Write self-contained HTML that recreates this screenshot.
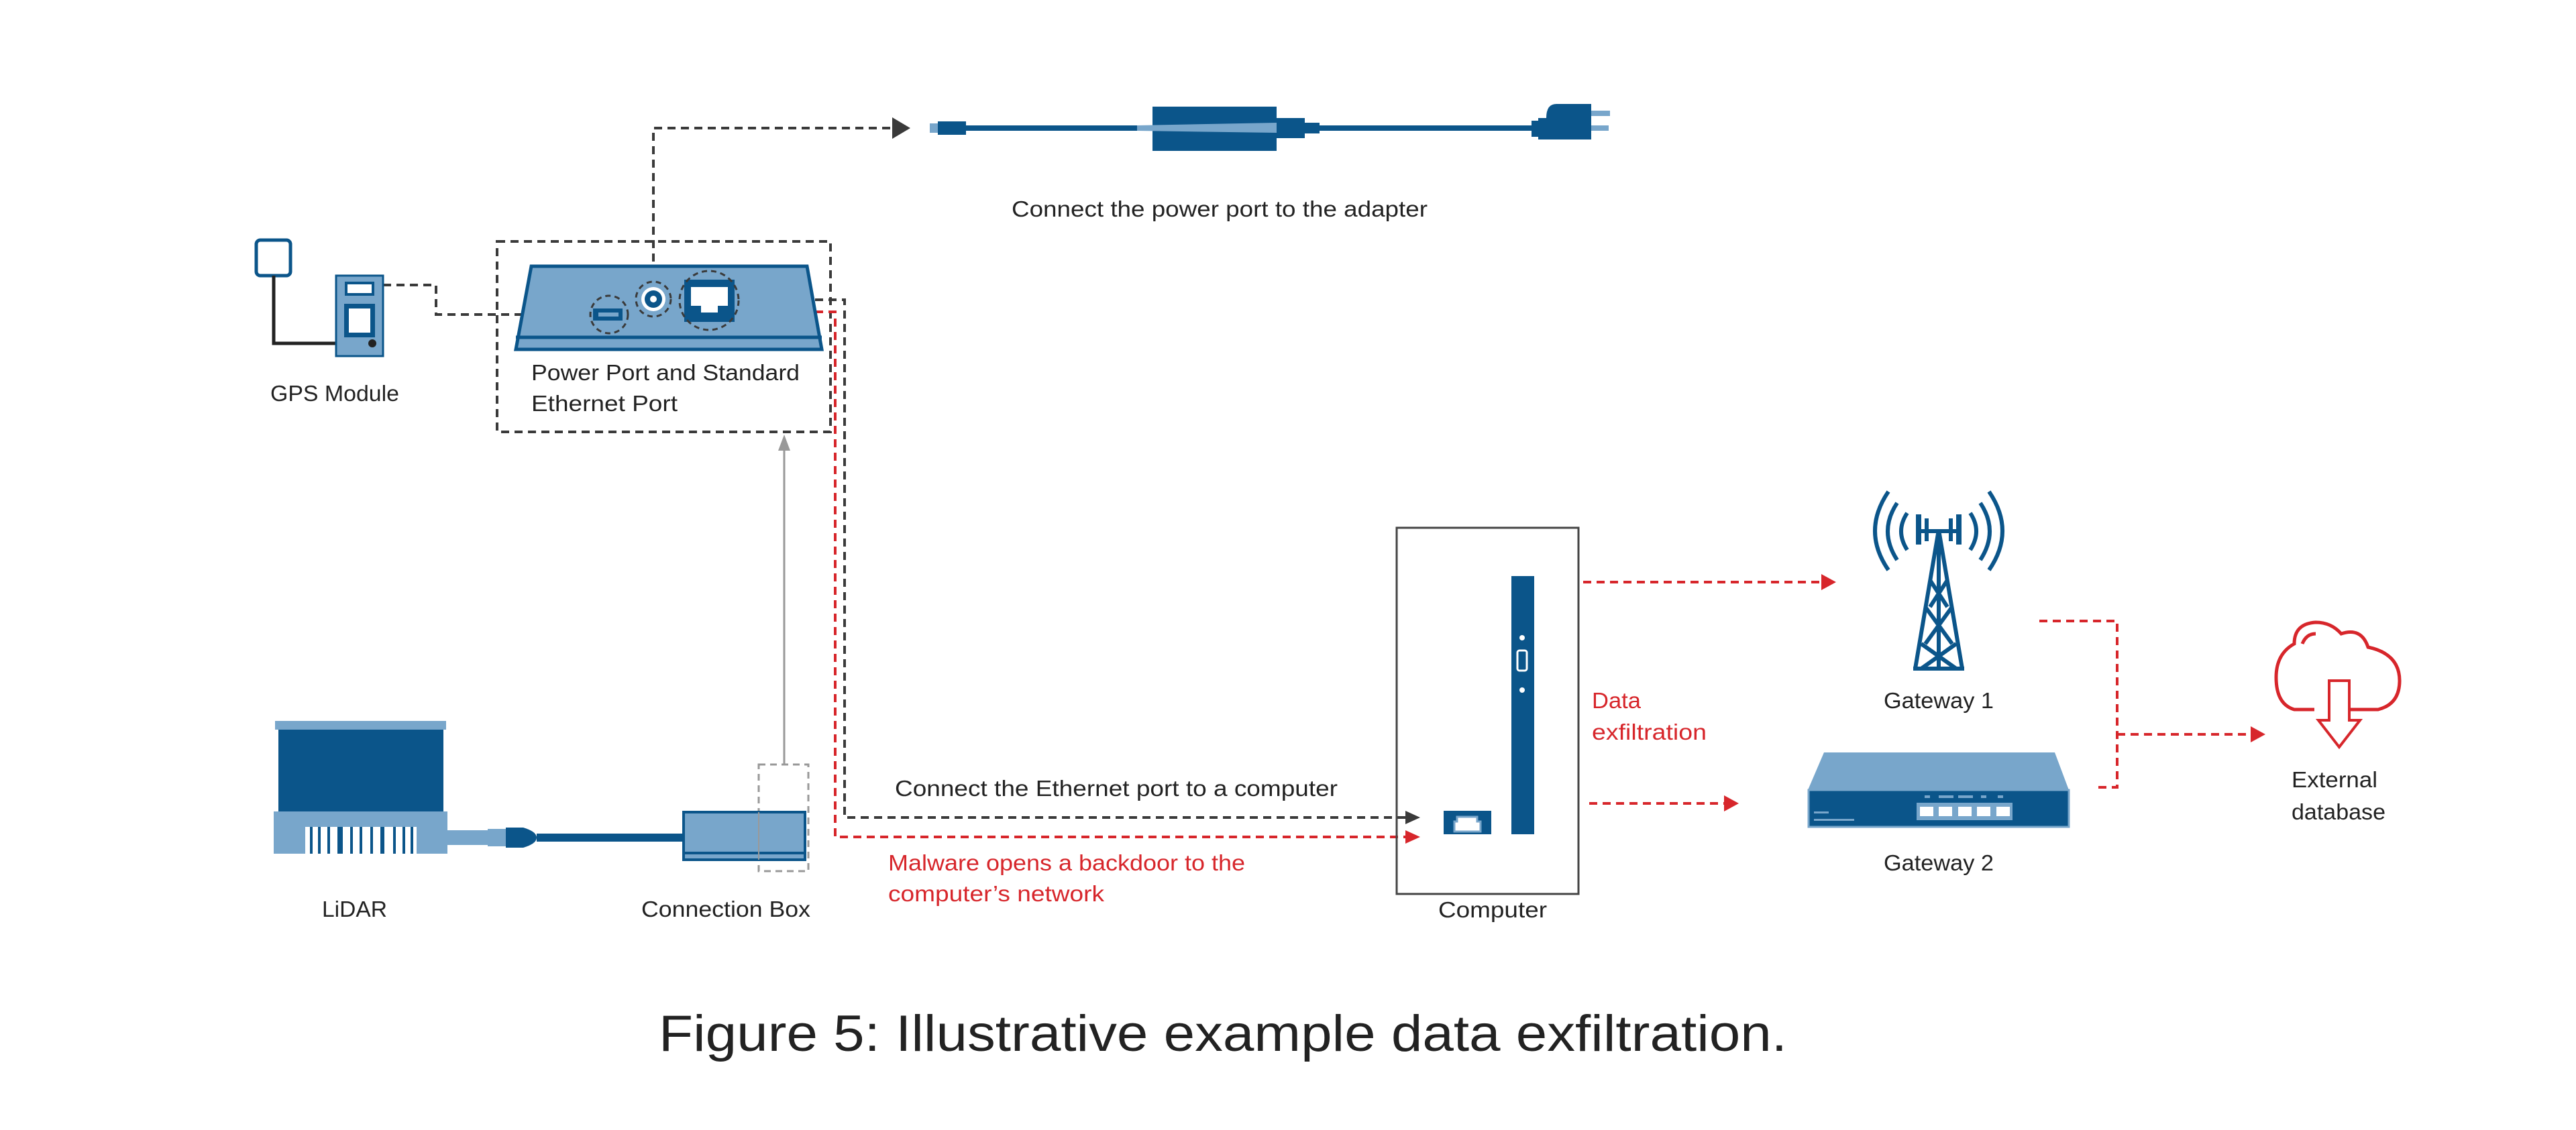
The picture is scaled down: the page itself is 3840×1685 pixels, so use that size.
<!DOCTYPE html>
<html><head><meta charset="utf-8"><style>html,body{margin:0;padding:0;background:#fff}svg{display:block}</style></head>
<body>
<svg width="3840" height="1685" viewBox="0 0 3840 1685" xmlns="http://www.w3.org/2000/svg" font-family="Liberation Sans, sans-serif">
<rect width="3840" height="1685" fill="#fff"/>
<defs>
<marker id="ab" markerWidth="10" markerHeight="10" refX="9" refY="5" orient="auto" markerUnits="userSpaceOnUse" viewBox="0 0 10 10"><path d="M0,0 L10,5 L0,10 z" fill="#3a3a3a"/></marker>
</defs>
<g fill="none" stroke="#3a3a3a" stroke-width="4" stroke-dasharray="12,8">
<!-- power line -->
<polyline points="974,430 974,191 1330,191"/>
<!-- dashed box -->
<rect x="741" y="360" width="497" height="284"/>
<!-- gps -->
<polyline points="571,425 650,425 650,469 880,469"/>
<!-- ethernet black -->
<polyline points="1095,447 1259,447 1259,1219 2095,1219"/>
</g>
<path d="M1330,175 L1357,191 L1330,207z" fill="#3a3a3a"/>
<path d="M2095,1209 L2117,1219 L2095,1229z" fill="#3a3a3a"/>
<g fill="none" stroke="#d7262b" stroke-width="4" stroke-dasharray="12,8">
<polyline points="1095,465 1245,465 1245,1248 2095,1248"/>
<line x1="2360" y1="868" x2="2715" y2="868"/>
<line x1="2369" y1="1198" x2="2570" y2="1198"/>
<polyline points="3040,926 3156,926 3156,1174 3120,1174"/>
<line x1="3156" y1="1095" x2="3355" y2="1095"/>
</g>
<g fill="#d7262b">
<path d="M2095,1238 L2117,1248 L2095,1258z"/>
<path d="M2715,856 L2737,868 L2715,880z"/>
<path d="M2570,1186 L2592,1198 L2570,1210z"/>
<path d="M3355,1083 L3377,1095 L3355,1107z"/>
</g>
<!-- grey arrow -->
<line x1="1169" y1="1140" x2="1169" y2="670" stroke="#999" stroke-width="3"/>
<path d="M1160,672 L1169,648 L1178,672z" fill="#999"/>
<rect x="1131" y="1140" width="74" height="159" fill="none" stroke="#999" stroke-width="3" stroke-dasharray="10,7"/>

<!-- power adapter -->
<rect x="1386" y="184" width="12" height="14" fill="#78a6cb"/>
<rect x="1398" y="181" width="42" height="20" fill="#0b558a"/>
<rect x="1440" y="187" width="300" height="8" fill="#0b558a"/>
<rect x="1718" y="159" width="185" height="66" fill="#0b558a"/>
<path d="M1695,187 L1903,183 L1903,198 L1695,195z" fill="#78a6cb"/>
<rect x="1903" y="176" width="42" height="30" fill="#0b558a"/>
<rect x="1945" y="183" width="22" height="16" fill="#0b558a"/>
<rect x="1967" y="187" width="316" height="8" fill="#0b558a"/>
<rect x="2283" y="180" width="10" height="24" fill="#0b558a"/>
<path d="M2293,176 L2305,176 Q2305,155 2320,155 L2372,155 L2372,208 L2293,208z" fill="#0b558a"/>
<rect x="2372" y="165" width="28" height="8" fill="#78a6cb"/>
<rect x="2372" y="187" width="26" height="8" fill="#78a6cb"/>

<!-- GPS -->
<rect x="382" y="358" width="51" height="53" rx="6" fill="#fff" stroke="#0b558a" stroke-width="5"/>
<polyline points="408,411 408,512 555,512" fill="none" stroke="#222" stroke-width="5"/>
<rect x="501" y="411" width="70" height="120" fill="#78a6cb" stroke="#0b558a" stroke-width="3"/>
<rect x="516" y="422" width="40" height="17" fill="#fff" stroke="#0b558a" stroke-width="4"/>
<rect x="513" y="453" width="46" height="50" fill="#0b558a"/>
<rect x="520" y="460" width="32" height="36" fill="#fff"/>
<circle cx="555" cy="512" r="6" fill="#222"/>

<!-- device -->
<path d="M792,397 L1203,397 L1225,521 L769,521z" fill="#78a6cb" stroke="#0b558a" stroke-width="5"/>
<line x1="769" y1="503" x2="1225" y2="503" stroke="#0b558a" stroke-width="5"/>
<rect x="884" y="460" width="44" height="18" fill="#0b558a"/>
<rect x="892" y="466" width="30" height="6" fill="#78a6cb"/>
<circle cx="908" cy="469" r="28" fill="none" stroke="#3a3a3a" stroke-width="3" stroke-dasharray="8,6"/>
<circle cx="974" cy="446" r="18" fill="#fff"/>
<circle cx="974" cy="446" r="13" fill="#0b558a"/>
<circle cx="974" cy="446" r="5" fill="#fff"/>
<circle cx="974" cy="446" r="26" fill="none" stroke="#3a3a3a" stroke-width="3" stroke-dasharray="8,6"/>
<rect x="1020" y="417" width="75" height="63" fill="#0b558a"/>
<path d="M1030,428 L1085,428 L1085,456 L1070,456 L1070,466 L1045,466 L1045,456 L1030,456z" fill="#fff"/>
<circle cx="1057" cy="448" r="44" fill="none" stroke="#3a3a3a" stroke-width="3" stroke-dasharray="8,6"/>

<!-- LiDAR -->
<rect x="410" y="1075" width="255" height="13" fill="#78a6cb"/>
<rect x="415" y="1088" width="246" height="122" fill="#0b558a"/>
<rect x="408" y="1210" width="259" height="63" fill="#78a6cb"/>
<g fill="#fff"><rect x="455" y="1233" width="166" height="40"/></g>
<g fill="#0b558a"><rect x="462" y="1233" width="4" height="40"/><rect x="474" y="1233" width="4" height="40"/><rect x="488" y="1233" width="4" height="40"/><rect x="503" y="1233" width="8" height="40"/><rect x="522" y="1233" width="4" height="40"/><rect x="536" y="1233" width="4" height="40"/><rect x="552" y="1233" width="4" height="40"/><rect x="567" y="1233" width="6" height="40"/><rect x="586" y="1233" width="4" height="40"/><rect x="600" y="1233" width="4" height="40"/><rect x="612" y="1233" width="4" height="40"/></g>
<rect x="667" y="1238" width="60" height="22" fill="#78a6cb"/>
<path d="M754,1234 L780,1234 Q800,1240 800,1249 Q800,1258 780,1264 L754,1264z" fill="#0b558a"/>
<rect x="727" y="1236" width="27" height="26" fill="#78a6cb"/>
<rect x="800" y="1243" width="220" height="12" fill="#0b558a"/>
<rect x="1019" y="1211" width="181" height="71" fill="#78a6cb" stroke="#0b558a" stroke-width="4"/>
<rect x="1019" y="1270" width="181" height="4" fill="#0b558a"/>
<line x1="1131" y1="1211" x2="1131" y2="1282" stroke="#999" stroke-width="2"/>

<!-- Computer -->
<rect x="2082" y="787" width="271" height="546" fill="none" stroke="#444" stroke-width="3"/>
<rect x="2253" y="859" width="34" height="385" fill="#0b558a"/>
<circle cx="2269" cy="951" r="4" fill="#fff"/>
<circle cx="2269" cy="1029" r="4" fill="#fff"/>
<rect x="2262" y="970" width="14" height="30" rx="3" fill="none" stroke="#fff" stroke-width="3"/>
<rect x="2152" y="1209" width="71" height="35" fill="#0b558a"/>
<path d="M2172,1218 L2202,1218 L2202,1225 L2207,1225 L2207,1240 L2168,1240 L2168,1225 L2172,1225z" fill="#fff" stroke="#78a6cb" stroke-width="3"/>

<!-- tower -->
<g fill="none" stroke="#0b558a" stroke-width="6">
<path d="M2855,997 L2890,790 L2925,997 M2852,997 L2928,997 M2890,790 L2890,997"/>
<path d="M2877,865 L2903,905 M2903,865 L2877,905 M2870,905 L2910,960 M2910,905 L2870,960 M2864,960 L2916,997 M2916,960 L2864,997"/>
<line x1="2862" y1="792" x2="2918" y2="792"/>
<path d="M2843,765 Q2825,792 2843,820 M2937,765 Q2955,792 2937,820"/>
<path d="M2828,750 Q2800,792 2828,835 M2952,750 Q2980,792 2952,835"/>
<path d="M2815,733 Q2775,792 2815,850 M2965,733 Q3005,792 2965,850"/>
</g>
<g fill="#0b558a"><rect x="2856" y="767" width="8" height="45"/><rect x="2916" y="767" width="8" height="45"/><rect x="2869" y="773" width="6" height="34"/><rect x="2905" y="773" width="6" height="34"/></g>

<!-- router -->
<path d="M2719,1122 L3063,1122 L3084,1178 L2695,1178z" fill="#78a6cb"/>
<rect x="2696" y="1178" width="388" height="55" fill="#0b558a" stroke="#78a6cb" stroke-width="3"/>
<rect x="2857" y="1197" width="143" height="26" fill="#78a6cb"/>
<g fill="#fff"><rect x="2862" y="1203" width="20" height="14"/><rect x="2890" y="1203" width="20" height="14"/><rect x="2919" y="1203" width="20" height="14"/><rect x="2947" y="1203" width="20" height="14"/><rect x="2976" y="1203" width="20" height="14"/></g>
<g fill="#78a6cb"><rect x="2869" y="1186" width="8" height="4"/><rect x="2890" y="1186" width="22" height="4"/><rect x="2919" y="1186" width="22" height="4"/><rect x="2953" y="1186" width="8" height="4"/><rect x="2978" y="1186" width="8" height="4"/><rect x="2704" y="1210" width="22" height="3"/><rect x="2704" y="1221" width="60" height="3"/></g>

<!-- cloud -->
<path d="M3450,1058 L3420,1058 Q3393,1050 3393,1010 Q3393,975 3420,960 Q3420,930 3452,928 Q3475,928 3490,945 Q3520,935 3530,965 Q3577,975 3577,1015 Q3577,1050 3545,1058 L3503,1058" fill="none" stroke="#d7262b" stroke-width="5"/>
<path d="M3432,960 Q3438,945 3452,945" fill="none" stroke="#d7262b" stroke-width="5"/>
<path d="M3472,1015 L3502,1015 L3502,1074 L3518,1074 L3487,1114 L3456,1074 L3472,1074z" fill="#fff" stroke="#d7262b" stroke-width="4"/>

<!-- labels -->
<g fill="#222" font-size="33">
<text x="1508" y="323" textLength="620" lengthAdjust="spacingAndGlyphs">Connect the power port to the adapter</text>
<text x="403" y="598" textLength="192" lengthAdjust="spacingAndGlyphs">GPS Module</text>
<text x="792" y="567" textLength="400" lengthAdjust="spacingAndGlyphs">Power Port and Standard</text>
<text x="792" y="613" textLength="218" lengthAdjust="spacingAndGlyphs">Ethernet Port</text>
<text x="480" y="1367" textLength="97" lengthAdjust="spacingAndGlyphs">LiDAR</text>
<text x="956" y="1367" textLength="252" lengthAdjust="spacingAndGlyphs">Connection Box</text>
<text x="1334" y="1187" textLength="660" lengthAdjust="spacingAndGlyphs">Connect the Ethernet port to a computer</text>
<text x="2144" y="1368" textLength="162" lengthAdjust="spacingAndGlyphs">Computer</text>
<text x="2808" y="1056" textLength="164" lengthAdjust="spacingAndGlyphs">Gateway 1</text>
<text x="2808" y="1298" textLength="164" lengthAdjust="spacingAndGlyphs">Gateway 2</text>
<text x="3416" y="1174" textLength="128" lengthAdjust="spacingAndGlyphs">External</text>
<text x="3416" y="1222" textLength="140" lengthAdjust="spacingAndGlyphs">database</text>
</g>
<g fill="#d7262b" font-size="33">
<text x="1324" y="1298" textLength="532" lengthAdjust="spacingAndGlyphs">Malware opens a backdoor to the</text>
<text x="1324" y="1344" textLength="322" lengthAdjust="spacingAndGlyphs">computer’s network</text>
<text x="2373" y="1056" textLength="73" lengthAdjust="spacingAndGlyphs">Data</text>
<text x="2373" y="1103" textLength="171" lengthAdjust="spacingAndGlyphs">exfiltration</text>
</g>
<text x="982" y="1567" font-size="76" fill="#222" textLength="1682" lengthAdjust="spacingAndGlyphs">Figure 5: Illustrative example data exfiltration.</text>
</svg>
</body></html>
